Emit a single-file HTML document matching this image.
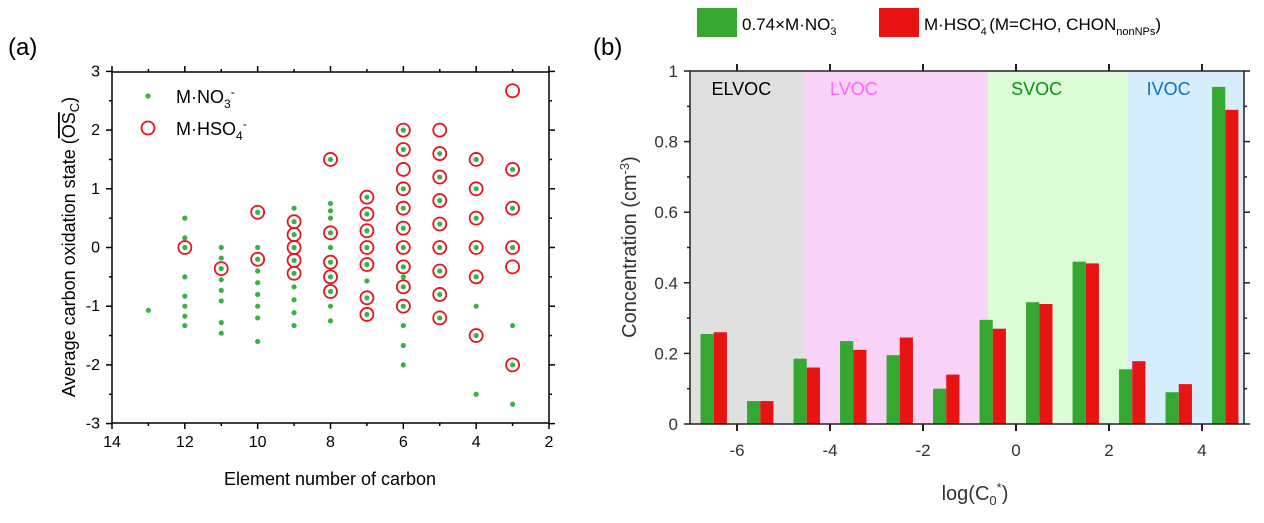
<!DOCTYPE html>
<html><head><meta charset="utf-8"><style>
body{margin:0;background:#fff;}
svg{display:block;font-family:"Liberation Sans",Arial,sans-serif;}
</style></head><body>
<svg id="s" width="1264" height="523" viewBox="0 0 1264 523">
<text x="8" y="55" font-size="24">(a)</text>
<text x="593" y="55" font-size="24">(b)</text>
<g id="A"></g>
<g id="B"></g>
</svg>
<script>
// ---- panel (a) data ----
const greenCols = [13,12,11,10,9,8,7,6,5,4,3];
const greenVals = [
 [-1.07],
 [0.5,0.165,0,-0.5,-0.83,-1,-1.17,-1.33],
 [0,-0.18,-0.36,-0.55,-0.73,-0.91,-1.28,-1.46],
 [0.6,0,-0.2,-0.4,-0.6,-0.8,-1.0,-1.2,-1.6],
 [0.67,0.44,0.22,0,-0.22,-0.44,-0.67,-0.89,-1.11,-1.33],
 [1.5,0.75,0.625,0.5,0.25,0,-0.25,-0.5,-0.75,-1,-1.25],
 [0.857,0.57,0.285,0,-0.29,-0.57,-0.857,-1.14],
 [2,1.67,1,0.67,0.33,0,-0.33,-0.5,-0.67,-1,-1.33,-1.67,-2],
 [1.6,1.2,0.8,0.4,0,-0.4,-0.8,-1.2],
 [1.5,1,0.5,0,-0.5,-1,-1.5,-2.5],
 [1.33,0.67,0,-1.33,-2,-2.67]
];
const redCols = [12,11,10,9,8,7,6,5,4,3];
const redVals = [
 [0],[-0.36],[0.6,-0.2],[0.44,0.22,0,-0.22,-0.44],
 [1.5,0.25,-0.25,-0.5,-0.75],
 [0.857,0.57,0.285,0,-0.29,-0.857,-1.14],
 [2,1.67,1.33,1,0.67,0.33,0,-0.33,-0.67,-1],
 [2,1.6,1.2,0.8,0.4,0,-0.4,-0.8,-1.2],
 [1.5,1,0.5,0,-0.5,-1.5],
 [2.67,1.33,0.67,0,-0.33,-2]
];
const aXTicks = [14,12,10,8,6,4,2];
const aYTicks = [3,2,1,0,-1,-2,-3];
// ---- panel (b) data ----
const bCats = [-6.5,-5.5,-4.5,-3.5,-2.5,-1.5,-0.5,0.5,1.5,2.5,3.5,4.5];
const bGreen = [0.255,0.065,0.185,0.235,0.195,0.10,0.295,0.345,0.46,0.155,0.09,0.955];
const bRed = [0.26,0.065,0.16,0.21,0.245,0.14,0.27,0.34,0.455,0.178,0.113,0.89];
const bXTicks = [-6,-4,-2,0,2,4];
const bYTicks = [0,0.2,0.4,0.6,0.8,1];
const regionNames = ['ELVOC','LVOC','SVOC','IVOC'];
const regionBounds = [-7,-4.58,-0.6,2.4,4.9];

const NS='http://www.w3.org/2000/svg';
function mk(p,t,a,txt){const e=document.createElementNS(NS,t);for(const k in a)e.setAttribute(k,a[k]);if(txt!==undefined)e.textContent=txt;p.appendChild(e);return e;}

// panel A
const A=document.getElementById('A');
const ax=v=>112+(14-v)*(549-112)/12, ay=v=>247.5-v*58.7;
for(let v=-3;v<=3;v+=0.5){const big=Number.isInteger(v);
 let t=mk(A,'line',{x1:112,x2:112-(big?6:3),y1:ay(v),y2:ay(v),stroke:'#000','stroke-width':1.5});
 
 t=mk(A,'line',{x1:549,x2:549+(big?6:3),y1:ay(v),y2:ay(v),stroke:'#000','stroke-width':1.5});
 }
for(let v=2;v<=14;v+=1){const big=v%2===0;
 let t=mk(A,'line',{x1:ax(v),x2:ax(v),y1:423,y2:423+(big?6:3),stroke:'#000','stroke-width':1.5});
 
 t=mk(A,'line',{x1:ax(v),x2:ax(v),y1:72,y2:72-(big?6:3),stroke:'#000','stroke-width':1.5});
 }
let fr=mk(A,'rect',{x:112,y:72,width:437,height:351,fill:'none',stroke:'#000','stroke-width':1.5});

aXTicks.forEach(v=>{const t=mk(A,'text',{x:ax(v),y:447,'font-size':16,'text-anchor':'middle'},v);
 });
aYTicks.forEach(v=>{const t=mk(A,'text',{x:100,y:ay(v)+5,'font-size':16,'text-anchor':'end'},v);
 });
greenCols.forEach((c,i)=>greenVals[i].forEach(v=>{const d=mk(A,'circle',{cx:ax(c),cy:ay(v),r:2.6,fill:'#3cb043'});
 }));
redCols.forEach((c,i)=>redVals[i].forEach(v=>{const d=mk(A,'circle',{cx:ax(c),cy:ay(v),r:6.5,fill:'none',stroke:'#e8141c','stroke-width':1.8});
 }));
let l=mk(A,'circle',{cx:148,cy:96,r:2.6,fill:'#3cb043'});
l=mk(A,'text',{x:176,y:103,'font-size':18},'');
l.innerHTML='M·NO<tspan font-size="12" dy="5">3</tspan><tspan font-size="12" dy="-12">-</tspan>';
l=mk(A,'circle',{cx:148,cy:128,r:6.5,fill:'none',stroke:'#e8141c','stroke-width':1.8});
l=mk(A,'text',{x:176,y:135,'font-size':18},'');
l.innerHTML='M·HSO<tspan font-size="12" dy="5">4</tspan><tspan font-size="12" dy="-12">-</tspan>';
l=mk(A,'text',{x:330,y:485,'font-size':18,'text-anchor':'middle'},'Element number of carbon');
l=mk(A,'text',{transform:'translate(75,247) rotate(-90)','font-size':18,'text-anchor':'middle'},'');
l.innerHTML='Average carbon oxidation state (<tspan text-decoration="overline">OS</tspan><tspan font-size="13" dy="4">C</tspan><tspan dy="-4">)</tspan>';

// panel B
const B=document.getElementById('B');
const bx=v=>1016+v*46.5, by=v=>424-v*353;
const regColors=['#e0e0e0','#f9d3f5','#dbfcd6','#d6edfc'];
const txtColors=['#000','#ff66ff','#109010','#1070c8'];
regionNames.forEach((n,i)=>{const r=mk(B,'rect',{x:bx(regionBounds[i]),y:71,width:bx(regionBounds[i+1])-bx(regionBounds[i]),height:353,fill:regColors[i]});
 
 const t=mk(B,'text',{x:bx(regionBounds[i])+(i==0?21:i==1?27:i==2?23:19),y:95,'font-size':18,fill:txtColors[i]},n);
 });
const bw=13.2;
bCats.forEach((c,i)=>{let r=mk(B,'rect',{x:bx(c)-bw,y:by(bGreen[i]),width:bw,height:by(0)-by(bGreen[i]),fill:'#36a832'});
 
 r=mk(B,'rect',{x:bx(c),y:by(bRed[i]),width:bw,height:by(0)-by(bRed[i]),fill:'#e81414'});
 });
fr=mk(B,'rect',{x:690,y:71,width:554,height:353,fill:'none',stroke:'#222','stroke-width':1.5});

for(let v=0;v<=1.001;v+=0.1){const big=Math.round(v*10)%2===0;
 let t=mk(B,'line',{x1:690,x2:690-(big?6:3),y1:by(v),y2:by(v),stroke:'#222','stroke-width':1.5});
 t=mk(B,'line',{x1:1244,x2:1244+(big?6:3),y1:by(v),y2:by(v),stroke:'#222','stroke-width':1.5});}
bXTicks.forEach(v=>{let t=mk(B,'line',{x1:bx(v),x2:bx(v),y1:424,y2:431,stroke:'#222','stroke-width':2});
 t=mk(B,'line',{x1:bx(v),x2:bx(v),y1:71,y2:64,stroke:'#222','stroke-width':2});
 t=mk(B,'text',{x:bx(v),y:456,'font-size':17,'text-anchor':'middle',fill:'#333'},v<0?'-'+(-v):v);});
bYTicks.forEach(v=>{const t=mk(B,'text',{x:678,y:by(v)+6,'font-size':17,'text-anchor':'end',fill:'#333'},v===0?'0':v===1?'1':String(v));
 });
l=mk(B,'text',{x:975,y:500,'font-size':20,'text-anchor':'middle',fill:'#333'},'');
l.innerHTML='log(C<tspan font-size="13" dy="5">0</tspan><tspan font-size="13" dy="-13">*</tspan><tspan dy="8">)</tspan>';
l=mk(B,'text',{transform:'translate(636,247) rotate(-90)','font-size':20,'text-anchor':'middle',fill:'#333'},'');
l.innerHTML='Concentration (cm<tspan font-size="13" dy="-7">-3</tspan><tspan dy="7">)</tspan>';
l=mk(B,'rect',{x:697,y:8,width:40,height:29,fill:'#36a832'});
l=mk(B,'text',{x:742,y:30,'font-size':17},'');
l.innerHTML='0.74×M·NO<tspan font-size="11" dy="5">3</tspan><tspan font-size="11" dy="-12" dx="-6">-</tspan>';
l=mk(B,'rect',{x:879,y:8,width:40,height:29,fill:'#e81414'});
l=mk(B,'text',{x:924,y:30,'font-size':17},'');
l.innerHTML='M·HSO<tspan font-size="11" dy="5">4</tspan><tspan font-size="11" dy="-12" dx="-6">-</tspan><tspan dy="7"> (M=CHO, CHON</tspan><tspan font-size="11" dy="5">nonNPs</tspan><tspan dy="-5">)</tspan>';
</script>
</body></html>
